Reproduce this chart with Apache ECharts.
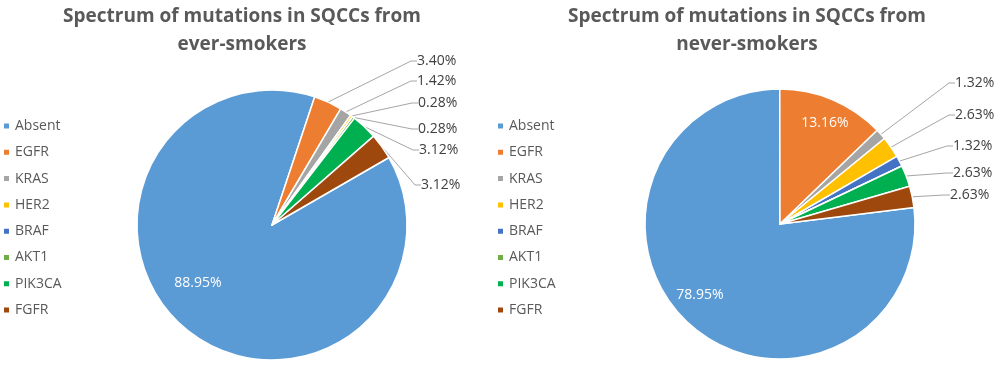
<!DOCTYPE html>
<html>
<head>
<meta charset="utf-8">
<script src="https://cdn.jsdelivr.net/npm/echarts@6/dist/echarts.min.js"></script>
<style>
html,body{margin:0;padding:0;background:#fff;}
#chart{width:998px;height:368px;}
</style>
</head>
<body>
<div id="chart"></div>
<script>
// ---- data ----
const categories = ['Absent', 'EGFR', 'KRAS', 'HER2', 'BRAF', 'AKT1', 'PIK3CA', 'FGFR'];
const everSmokers = [88.95, 3.40, 1.42, 0.28, 0, 0.28, 3.12, 3.12];
const neverSmokers = [78.95, 13.16, 1.32, 2.63, 1.32, 0, 2.63, 2.63];
const titleEver = 'Spectrum of mutations in SQCCs from\never-smokers';
const titleNever = 'Spectrum of mutations in SQCCs from\nnever-smokers';

// ---- styles ----
const colors = ['#5B9BD5', '#ED7D31', '#A5A5A5', '#FFC000', '#4472C4', '#70AD47', '#00B050', '#9E480E'];
const FONT = '"Open Sans", "Noto Sans", sans-serif';
// label placements (style only): [x, y, align]
const leftLabelPos = {0: [198, 283, 'center'], 1: [417, 61], 2: [417, 81], 3: [418, 103], 5: [418, 129], 6: [419, 150], 7: [421, 185]};
const rightLabelPos = {0: [700, 295, 'center'], 1: [825, 123, 'center'], 2: [955, 83], 3: [955, 115], 4: [953, 146], 6: [953, 173], 7: [950, 195]};
const insideLeft = [0];
const insideRight = [0, 1];

function buildData(values, inside) {
  return categories.map((name, i) => {
    const item = {name: name, value: values[i], itemStyle: {color: colors[i]}};
    if (values[i] === 0) {
      item.label = {show: false};
      item.labelLine = {show: false};
    } else if (inside.indexOf(i) >= 0) {
      item.label = {position: 'inside', color: '#ffffff'};
      item.labelLine = {show: false};
    }
    return item;
  });
}

function makeLayout(pos) {
  return function (params) {
    const p = pos[params.dataIndex];
    if (!p) return {};
    return {x: p[0], y: p[1], align: p[2] || 'left', verticalAlign: 'middle'};
  };
}

function pieSeries(values, inside, center, startAngle, pos) {
  return {
    type: 'pie',
    center: center,
    radius: 135,
    startAngle: startAngle,
    clockwise: true,
    avoidLabelOverlap: false,
    animation: false,
    data: buildData(values, inside),
    itemStyle: {borderColor: '#ffffff', borderWidth: 1.5},
    label: {
      show: true,
      position: 'outside',
      formatter: p => p.value.toFixed(2) + '%',
      fontSize: 14,
      fontFamily: FONT,
      color: '#404040'
    },
    labelLine: {show: true, length: 10, length2: 6, lineStyle: {color: '#A6A6A6', width: 1}},
    labelLayout: makeLayout(pos),
    emphasis: {disabled: true}
  };
}

const legendCommon = {
  orient: 'vertical',
  top: 118,
  padding: 0,
  itemWidth: 7,
  itemHeight: 7,
  itemGap: 10.3,
  icon: 'rect',
  data: categories,
  selectedMode: false,
  textStyle: {fontSize: 14, fontFamily: FONT, color: '#595959', lineHeight: 16}
};

const titleCommon = {
  textAlign: 'center',
  top: 3,
  padding: 0,
  textStyle: {fontSize: 19, fontWeight: 'bold', fontFamily: FONT, color: '#595959', lineHeight: 28}
};

const chart = echarts.init(document.getElementById('chart'), null, {renderer: 'canvas'});
chart.setOption({
  backgroundColor: '#ffffff',
  animation: false,
  color: colors,
  title: [
    Object.assign({}, titleCommon, {text: titleEver, left: 242}),
    Object.assign({}, titleCommon, {text: titleNever, left: 747})
  ],
  legend: [
    Object.assign({}, legendCommon, {left: 2}),
    Object.assign({}, legendCommon, {left: 496})
  ],
  series: [
    pieSeries(everSmokers, insideLeft, [272, 225], 30, leftLabelPos),
    pieSeries(neverSmokers, insideRight, [780, 224], 7, rightLabelPos)
  ]
});
</script>
</body>
</html>
